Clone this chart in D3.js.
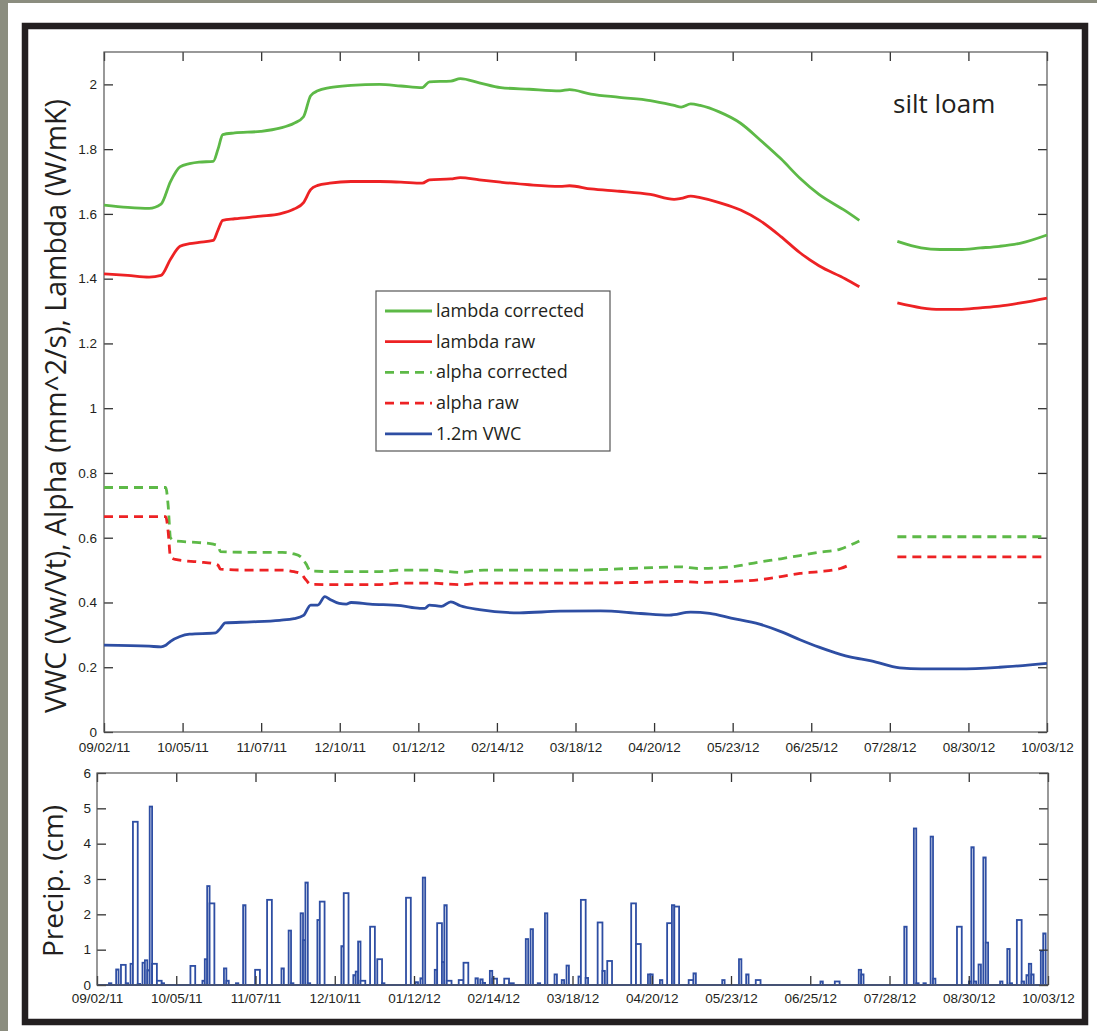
<!DOCTYPE html>
<html>
<head>
<meta charset="utf-8">
<script src="https://cdn.jsdelivr.net/npm/d3@7"></script>
<style>
  body { margin: 0; background: #8b8d7f; }
  svg { display: block; font-family: "Open Sans", sans-serif; }
  .tick text { fill: #231f20; }
</style>
</head>
<body>
<div id="chart"></div>
<script>
var width = 1097
var height = 1031

// x values are days since 09/02/11
var dayEnd = 397
var dateLabels = ["09/02/11", "10/05/11", "11/07/11", "12/10/11", "01/12/12", "02/14/12", "03/18/12",
    "04/20/12", "05/23/12", "06/25/12", "07/28/12", "08/30/12", "10/03/12"]
var topTicks = [0, 0.2, 0.4, 0.6, 0.8, 1, 1.2, 1.4, 1.6, 1.8, 2]
var precipTicks = [0, 1, 2, 3, 4, 5, 6]

// Lambda (W/mK)
var lambdaDays = [0, 10, 19, 24, 28, 32, 36, 40, 46, 48, 50, 55, 66, 74, 80, 84, 87, 90, 95, 104,
    116, 125, 134, 137, 146, 150, 158, 167, 179, 192, 196, 205, 217, 230, 240, 243, 247, 251, 259, 268,
    276, 285, 293, 301, 312, 318, 326, 334, 344, 352, 360, 369, 377, 386, 397]
var lambdaCorr = [1.627, 1.62, 1.617, 1.63, 1.70, 1.745, 1.755, 1.76, 1.762, 1.80, 1.845, 1.85, 1.855, 1.865, 1.88, 1.90, 1.965, 1.98, 1.99, 1.997,
    2.0, 1.995, 1.99, 2.008, 2.01, 2.018, 2.005, 1.99, 1.985, 1.98, 1.984, 1.97, 1.96, 1.95, 1.935, 1.93, 1.94, 1.935, 1.915, 1.88,
    1.83, 1.77, 1.71, 1.66, 1.61, 1.58, null, 1.515, 1.495, 1.49, 1.49, 1.495, 1.50, 1.51, 1.535]
var lambdaRaw = [1.415, 1.41, 1.405, 1.41, 1.46, 1.50, 1.508, 1.512, 1.518, 1.55, 1.58, 1.585, 1.593, 1.60, 1.615, 1.635, 1.675, 1.688, 1.695, 1.70,
    1.70, 1.698, 1.695, 1.705, 1.708, 1.712, 1.705, 1.698, 1.69, 1.685, 1.687, 1.677, 1.67, 1.66, 1.645, 1.648, 1.655, 1.65, 1.635, 1.612,
    1.58, 1.53, 1.48, 1.44, 1.40, 1.375, null, 1.325, 1.31, 1.305, 1.305, 1.31, 1.315, 1.325, 1.34]

// Alpha (mm^2/s)
var alphaDays = [0, 26, 27, 28, 30, 40, 46, 48, 49, 60, 75, 80, 83, 85, 87, 100, 115, 125, 137, 150,
    160, 200, 225, 243, 250, 264, 276, 285, 293, 301, 310, 315, 318, 326, 334, 397]
var alphaCorr = [0.755, 0.755, 0.70, 0.60, 0.59, 0.585, 0.58, 0.575, 0.557, 0.555, 0.555, 0.55, 0.54, 0.52, 0.497, 0.495, 0.495, 0.50, 0.50, 0.493,
    0.50, 0.50, 0.506, 0.51, 0.505, 0.51, 0.525, 0.535, 0.545, 0.555, 0.565, 0.58, 0.59, null, 0.603, 0.603]
var alphaRaw = [0.665, 0.665, 0.62, 0.54, 0.533, 0.525, 0.52, 0.515, 0.503, 0.50, 0.50, 0.495, 0.488, 0.47, 0.456, 0.455, 0.455, 0.46, 0.46, 0.455,
    0.46, 0.46, 0.462, 0.465, 0.462, 0.465, 0.47, 0.48, 0.49, 0.495, 0.505, 0.52, null, null, 0.541, 0.541]

// 1.2m VWC (Vw/Vt)
var vwcDays = [0, 19, 24, 26, 28, 32, 36, 47, 49, 51, 62, 74, 80, 84, 87, 90, 93, 95, 99, 102,
    104, 112, 125, 133, 135, 137, 142, 146, 150, 158, 175, 192, 209, 226, 238, 247, 255, 264, 276, 285,
    293, 301, 310, 314, 323, 335, 344, 360, 377, 397]
var vwc = [0.268, 0.265, 0.263, 0.268, 0.28, 0.295, 0.302, 0.306, 0.32, 0.337, 0.34, 0.345, 0.35, 0.36, 0.392, 0.392, 0.418, 0.41, 0.397, 0.395,
    0.40, 0.395, 0.39, 0.382, 0.382, 0.392, 0.388, 0.402, 0.39, 0.378, 0.368, 0.373, 0.374, 0.366, 0.361, 0.37, 0.366, 0.352, 0.333, 0.31,
    0.285, 0.262, 0.24, 0.232, 0.22, 0.198, 0.195, 0.195, 0.2, 0.212]

// Precipitation (cm): start day, amount, duration in days
var precipDay = [5, 8, 10, 12, 14, 15, 17, 19, 20, 21, 22, 23, 25, 27,
    39, 44, 45, 46, 47, 53, 54, 58, 61, 66, 71, 77, 80, 81, 85, 86, 87, 88, 92, 93,
    102, 103, 107, 108, 109, 110, 114, 117, 119, 129, 133, 135, 136, 141, 142, 144, 145, 146,
    151, 153, 158, 160, 161, 164, 165, 170, 172, 179, 181, 184, 187, 191, 194, 196,
    201, 202, 204, 209, 211, 213, 223, 225, 230, 231, 235, 238, 240, 241, 247, 249,
    261, 268, 271, 275, 302, 308, 318, 319, 337, 341, 342, 345, 348, 349, 359,
    364, 365, 366, 368, 370, 371, 377, 380, 381, 384, 386, 388, 389, 390, 394, 395]
var precipCm = [0.05, 0.44, 0.57, 0.05, 0.6, 4.62, 0.03, 0.63, 0.7, 0.42, 5.05, 0.6, 0.12, 0.05,
    0.54, 0.12, 0.73, 2.8, 2.31, 0.47, 0.12, 0.05, 2.26, 0.43, 2.41, 0.47, 1.54, 0.05, 2.03, 1.27, 2.9, 0.05, 1.84, 2.36,
    1.1, 2.6, 0.28, 0.38, 1.23, 0.12, 1.65, 0.73, 0.05, 2.47, 0.08, 0.19, 3.04, 0.43, 1.75, 0.65, 2.26, 0.12,
    0.14, 0.63, 0.19, 0.16, 0.06, 0.4, 0.18, 0.18, 0.05, 1.30, 1.58, 0.05, 2.03, 0.3, 0.14, 0.55,
    0.24, 2.41, 0.2, 1.77, 0.4, 0.68, 2.31, 1.16, 0.3, 0.3, 0.14, 1.75, 2.26, 2.22, 0.14, 0.33,
    0.14, 0.73, 0.3, 0.14, 0.1, 0.1, 0.43, 0.3, 1.65, 4.43, 0.05, 0.05, 4.2, 0.18, 1.65,
    0.1, 3.9, 0.1, 0.58, 3.61, 1.2, 0.1, 1.02, 0.05, 1.84, 0.1, 0.28, 0.6, 0.3, 0.96, 1.46]
var precipLen = [1, 1, 2, 1, 1, 2, 1, 1, 1, 1, 1, 2, 2, 1,
    2, 1, 1, 1, 2, 1, 1, 1, 1, 2, 2, 1, 1, 1, 1, 1, 1, 1, 1, 2,
    1, 2, 1, 1, 1, 2, 2, 2, 1, 2, 1, 1, 1, 1, 2, 1, 1, 2,
    2, 2, 1, 1, 1, 1, 2, 2, 2, 1, 1, 1, 1, 1, 1, 1,
    1, 2, 1, 2, 1, 2, 2, 2, 1, 1, 1, 2, 1, 2, 2, 1,
    1, 1, 1, 2, 1, 2, 1, 1, 1, 1, 1, 1, 1, 1, 2,
    1, 1, 1, 1, 1, 1, 1, 1, 1, 2, 1, 1, 1, 1, 1, 1]

var green = "#5db947"
var red = "#ed2224"
var blue = "#2e4ea3"
var ink = "#231f20"

var series = [
    {name: "lambda corrected", days: lambdaDays, vals: lambdaCorr, color: green, dash: null},
    {name: "lambda raw", days: lambdaDays, vals: lambdaRaw, color: red, dash: null},
    {name: "alpha corrected", days: alphaDays, vals: alphaCorr, color: green, dash: "9,6"},
    {name: "alpha raw", days: alphaDays, vals: alphaRaw, color: red, dash: "9,6"},
    {name: "1.2m VWC", days: vwcDays, vals: vwc, color: blue, dash: null}
]

var svg = d3.select("#chart")
    .append("svg")
    .attr("width", width)
    .attr("height", height)

svg.append("rect").attr("width", width).attr("height", height).attr("fill", "#8b8d7f")
svg.append("rect").attr("x", 8).attr("y", 3).attr("width", width - 8).attr("height", height - 3).attr("fill", "white")
svg.append("rect")
    .attr("x", 25).attr("y", 26).attr("width", 1060).attr("height", 996)
    .attr("fill", "none").attr("stroke", ink).attr("stroke-width", 6.5)

var tickDays = dateLabels.map(function(d, i) { return i * dayEnd / (dateLabels.length - 1); })

// ---------- upper panel ----------
var upper = {left: 104, right: 1047, top: 52, bottom: 732}

var x = d3.scaleLinear().domain([0, dayEnd]).range([upper.left, upper.right])
var y = d3.scaleLinear().domain([0, 2.1]).range([upper.bottom, upper.top])

function styleAxis(g) {
    g.select(".domain").remove()
    g.selectAll(".tick line").attr("stroke", "#333").attr("stroke-width", 1.3)
    g.selectAll(".tick text").style("font-size", "13.5px")
}

svg.append("g").attr("transform", "translate(0," + upper.bottom + ")")
    .call(d3.axisBottom(x).tickValues(tickDays).tickSize(-9).tickPadding(10)
        .tickFormat(function(d, i) { return dateLabels[i]; }))
    .call(styleAxis)
svg.append("g").attr("transform", "translate(0," + upper.top + ")")
    .call(d3.axisTop(x).tickValues(tickDays).tickSize(-9).tickFormat(""))
    .call(styleAxis)
svg.append("g").attr("transform", "translate(" + upper.left + ",0)")
    .call(d3.axisLeft(y).tickValues(topTicks).tickSize(-9).tickPadding(7).tickFormat(d3.format("~g")))
    .call(styleAxis)
svg.append("g").attr("transform", "translate(" + upper.right + ",0)")
    .call(d3.axisRight(y).tickValues(topTicks).tickSize(-9).tickFormat(""))
    .call(styleAxis)

svg.append("rect")
    .attr("x", upper.left).attr("y", upper.top)
    .attr("width", upper.right - upper.left).attr("height", upper.bottom - upper.top)
    .attr("fill", "none").attr("stroke", "#555").attr("stroke-width", 1.2)

var line = d3.line()
    .defined(function(d) { return d[1] !== null; })
    .x(function(d) { return x(d[0]); })
    .y(function(d) { return y(d[1]); })
    .curve(d3.curveMonotoneX)

series.forEach(function(s) {
    svg.append("path")
        .datum(s.days.map(function(d, i) { return [d, s.vals[i]]; }))
        .attr("d", line)
        .attr("fill", "none")
        .attr("stroke", s.color)
        .attr("stroke-width", 2.8)
        .attr("stroke-dasharray", s.dash)
})

svg.append("text")
    .attr("transform", "translate(66,406) rotate(-90)")
    .attr("text-anchor", "middle")
    .style("font-size", "28.5px")
    .attr("fill", ink)
    .text("VWC (Vw/Vt), Alpha (mm^2/s), Lambda (W/mK)")

svg.append("text")
    .attr("x", 893).attr("y", 113)
    .style("font-size", "26px")
    .attr("fill", ink)
    .text("silt loam")

// legend
var legend = svg.append("g")
legend.append("rect")
    .attr("x", 376).attr("y", 291).attr("width", 234).attr("height", 160)
    .attr("fill", "white").attr("stroke", "#555").attr("stroke-width", 1.2)

var rows = legend.selectAll("g.row")
    .data(series)
    .enter()
    .append("g")
    .attr("class", "row")
    .attr("transform", function(d, i) { return "translate(0," + (311 + i * 30.7) + ")"; })
rows.append("line")
    .attr("x1", 385).attr("x2", 432)
    .attr("stroke", function(d) { return d.color; })
    .attr("stroke-width", 2.8)
    .attr("stroke-dasharray", function(d) { return d.dash; })
rows.append("text")
    .attr("x", 436).attr("y", 6)
    .style("font-size", "18px")
    .attr("fill", ink)
    .text(function(d) { return d.name; })

// ---------- precipitation panel ----------
var bot = {left: 97, right: 1048, top: 773, bottom: 985}

var xP = d3.scaleLinear().domain([0, dayEnd]).range([bot.left, bot.right])
var yP = d3.scaleLinear().domain([0, 6]).range([bot.bottom, bot.top])

svg.append("line")
    .attr("x1", xP(0)).attr("x2", xP(dayEnd))
    .attr("y1", yP(0)).attr("y2", yP(0))
    .attr("stroke", blue).attr("stroke-width", 1.8)

svg.append("g")
    .selectAll("rect")
    .data(precipDay)
    .enter()
    .append("rect")
    .attr("x", function(d) { return xP(d); })
    .attr("y", function(d, i) { return yP(precipCm[i]); })
    .attr("width", function(d, i) { return xP(d + precipLen[i]) - xP(d); })
    .attr("height", function(d, i) { return yP(0) - yP(precipCm[i]); })
    .attr("fill", "white")
    .attr("stroke", blue)
    .attr("stroke-width", 1.8)

svg.append("g").attr("transform", "translate(0," + bot.bottom + ")")
    .call(d3.axisBottom(xP).tickValues(tickDays).tickSize(-9).tickPadding(8.5)
        .tickFormat(function(d, i) { return dateLabels[i]; }))
    .call(styleAxis)
svg.append("g").attr("transform", "translate(0," + bot.top + ")")
    .call(d3.axisTop(xP).tickValues(tickDays).tickSize(-9).tickFormat(""))
    .call(styleAxis)
svg.append("g").attr("transform", "translate(" + bot.left + ",0)")
    .call(d3.axisLeft(yP).tickValues(precipTicks).tickSize(-9).tickPadding(6).tickFormat(d3.format("d")))
    .call(styleAxis)
svg.append("g").attr("transform", "translate(" + bot.right + ",0)")
    .call(d3.axisRight(yP).tickValues(precipTicks).tickSize(-9).tickFormat(""))
    .call(styleAxis)

svg.append("rect")
    .attr("x", bot.left).attr("y", bot.top)
    .attr("width", bot.right - bot.left).attr("height", bot.bottom - bot.top)
    .attr("fill", "none").attr("stroke", "#555").attr("stroke-width", 1.2)

svg.append("text")
    .attr("transform", "translate(63,881) rotate(-90)")
    .attr("text-anchor", "middle")
    .style("font-size", "28px")
    .attr("fill", ink)
    .text("Precip. (cm)")
</script>
</body>
</html>
